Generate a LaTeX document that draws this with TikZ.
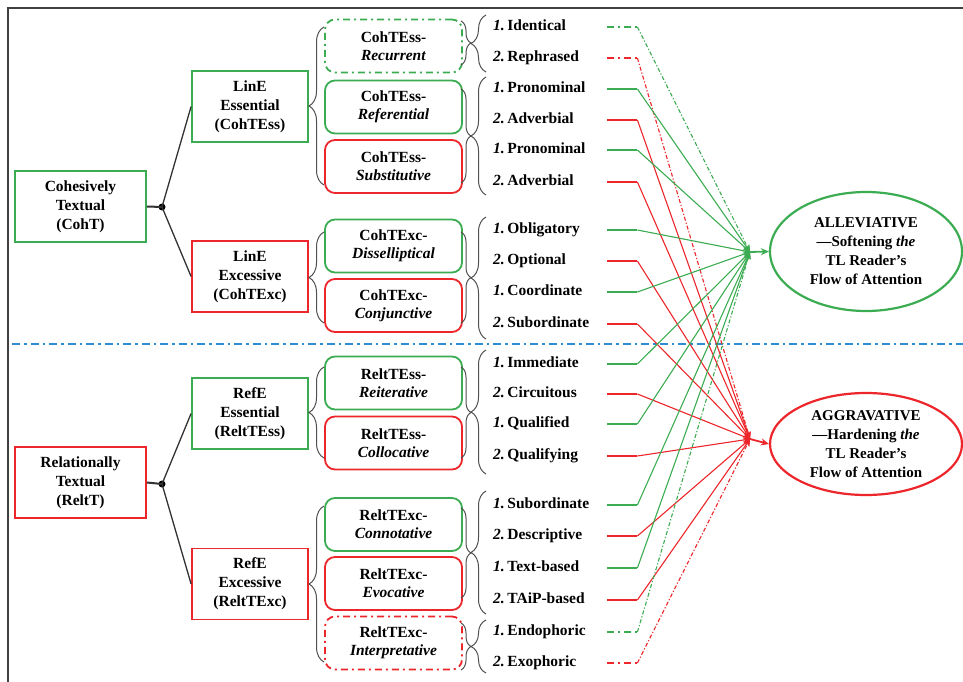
\documentclass[tikz,border=0pt]{standalone}
\usepackage{fontspec}
\setmainfont{Liberation Serif}
\usetikzlibrary{shapes.geometric,decorations.pathreplacing,arrows.meta}
\definecolor{gr}{RGB}{60,172,82}
\definecolor{rd}{RGB}{236,38,42}
\definecolor{bl}{RGB}{45,140,210}
\definecolor{brgray}{RGB}{80,80,80}
\definecolor{jl}{RGB}{50,50,50}
\begin{document}
\begin{tikzpicture}[x=1pt,y=-1pt,
  every node/.style={font=\fontsize{15.5}{19}\selectfont\bfseries},
  sqbox/.style={draw, line width=1.8pt, minimum height=71pt, align=center, inner sep=1pt},
  rbox/.style={draw, line width=1.8pt, rounded corners=10pt, minimum width=137pt, minimum height=53pt, align=center, inner sep=1pt, font=\fontsize{15.5}{18}\selectfont\bfseries},
  ddash/.style={dash pattern=on 7pt off 4pt on 2pt off 4pt},
  ddashh/.style={dash pattern=on 7pt off 4pt on 2pt off 4pt},
  ddashd/.style={dash pattern=on 4pt off 2pt on 1.2pt off 2pt},
  solidh/.style={solid},
  solidd/.style={solid},
  lbr/.style={decorate, decoration={brace, amplitude=15pt}, draw=brgray, line width=1pt},
  rbr/.style={decorate, decoration={brace, amplitude=10pt}, draw=brgray, line width=1pt},
  item/.style={anchor=west, inner sep=0pt, text width=114pt, align=left, text height=11pt, text depth=3.5pt},
  ell/.style={draw, ellipse, line width=2.2pt, minimum width=192pt, inner sep=0pt, align=center, font=\fontsize{15}{19}\selectfont\bfseries},
  jdot/.style={circle, fill=black, inner sep=0pt, minimum size=7pt}
]
\useasboundingbox (0,0) rectangle (963,682);
% frame
\draw[line width=1.2pt, black!75] (8,682) -- (8,8) -- (963,8);
% separator
\draw[bl, line width=2.2pt, dash pattern=on 8pt off 4pt on 2.5pt off 4pt] (12,344) -- (963,344);

% square boxes
\node[sqbox, draw=gr, minimum width=131pt] (coht) at (80.5,206.5) {Cohesively\\Textual\\(CohT)};
\node[sqbox, draw=gr, minimum width=116pt] (lee) at (250,106.5) {LinE\\Essential\\(CohTEss)};
\node[sqbox, draw=rd, minimum width=116pt] (lex) at (250,276.5) {LinE\\Excessive\\(CohTExc)};
\node[sqbox, draw=rd, minimum width=131pt] (relt) at (80.5,482.5) {Relationally\\Textual\\(ReltT)};
\node[sqbox, draw=gr, minimum width=116pt] (ree) at (250,413.5) {RefE\\Essential\\(ReltTEss)};
\node[sqbox, draw=rd, minimum width=116pt] (rex) at (250,584) {RefE\\Excessive\\(ReltTExc)};

% junctions
\node[jdot] (j1) at (162,207) {};
\node[jdot] (j2) at (162,484) {};
\draw[jl, line width=2pt] (coht.east) -- (j1.center);
\draw[jl, line width=1.3pt] (j1.center) -- (lee.west);
\draw[jl, line width=1.3pt] (j1.center) -- (lex.west);
\draw[jl, line width=2pt] (relt.east) -- (j2.center);
\draw[jl, line width=1.3pt] (j2.center) -- (ree.west);
\draw[jl, line width=1.3pt] (j2.center) -- (rex.west);

% rounded boxes
\node[rbox, draw=gr, ddash] (rec) at (393.5,46) {CohTEss-\\\textit{Recurrent}};
\node[rbox, draw=gr] (ref) at (393.5,107) {CohTEss-\\\textit{Referential}};
\node[rbox, draw=rd] (sub) at (393.5,166.5) {CohTEss-\\\textit{Substitutive}};
\node[rbox, draw=gr] (dis) at (393.5,246) {CohTExc-\\\textit{Disselliptical}};
\node[rbox, draw=rd] (con) at (393.5,305.5) {CohTExc-\\\textit{Conjunctive}};
\node[rbox, draw=gr] (rei) at (393.5,383) {ReltTEss-\\\textit{Reiterative}};
\node[rbox, draw=rd] (col) at (393.5,443) {ReltTEss-\\\textit{Collocative}};
\node[rbox, draw=gr] (cnt) at (393.5,524.5) {ReltTExc-\\\textit{Connotative}};
\node[rbox, draw=rd] (evo) at (393.5,583.5) {ReltTExc-\\\textit{Evocative}};
\node[rbox, draw=rd, ddash] (int) at (393.5,643) {ReltTExc-\\\textit{Interpretative}};

% braces before rounded boxes
\draw[lbr] (324,185) -- (324,27);
\draw[lbr] (324,323) -- (324,232);
\draw[lbr] (324,458) -- (324,367);
\draw[lbr] (324,662) -- (324,506);
% braces after rounded boxes
\draw[rbr] (461,21) -- (461,65);
\draw[rbr] (461,89) -- (461,183);
\draw[rbr] (461,232) -- (461,323);
\draw[rbr] (461,367) -- (461,458);
\draw[rbr] (461,508) -- (461,598);
\draw[rbr] (461,623) -- (461,670);
% braces before items
\draw[lbr] (486,72) -- (486,15);
\draw[lbr] (486,195) -- (486,77);
\draw[lbr] (486,339) -- (486,217);
\draw[lbr] (486,474) -- (486,350);
\draw[lbr] (486,614) -- (486,491);
\draw[lbr] (486,673) -- (486,620);

% ellipses
\node[ell, draw=gr, minimum height=119pt] (allev) at (866,251.5) {ALLEVIATIVE\\—Softening \textit{the}\\TL Reader's\\Flow of Attention};
\node[ell, draw=rd, minimum height=102pt] (aggr) at (866,444) {AGGRAVATIVE\\—Hardening \textit{the}\\TL Reader's\\Flow of Attention};
\coordinate (cA) at (750,252);
\coordinate (cG) at (750,439);
\draw[gr, line width=1.8pt, -{Stealth[length=8pt,width=7pt]}] (cA) -- (allev.west);
\draw[rd, line width=1.8pt, -{Stealth[length=8pt,width=7pt]}] (cG) -- (aggr.west);

% items and connectors
\foreach \nn/\y/\nm/\tx/\col/\tg/\st in {
 i1/27/1/Identical/gr/cA/ddash,
 i2/58/2/Rephrased/rd/cG/ddash,
 i3/89/1/Pronominal/gr/cA/solid,
 i4/120/2/Adverbial/rd/cG/solid,
 i5/150/1/Pronominal/gr/cA/solid,
 i6/182/2/Adverbial/rd/cG/solid,
 i7/230/1/Obligatory/gr/cA/solid,
 i8/261/2/Optional/rd/cG/solid,
 i9/292/1/Coordinate/gr/cA/solid,
 i10/324/2/Subordinate/rd/cG/solid,
 i11/364/1/Immediate/gr/cA/solid,
 i12/394/2/Circuitous/rd/cG/solid,
 i13/424/1/Qualified/gr/cA/solid,
 i14/456/2/Qualifying/rd/cG/solid,
 i15/505/1/Subordinate/gr/cA/solid,
 i16/536/2/Descriptive/rd/cG/solid,
 i17/568/1/Text-based/gr/cA/solid,
 i18/600/2/TAiP-based/rd/cG/solid,
 i19/632/1/Endophoric/gr/cA/ddash,
 i20/663/2/Exophoric/rd/cG/ddash}
{
 \node[item] (\nn) at (493,\y) {\textit{\nm.}\,\tx};
 \draw[\col, line width=2pt, \st h] (\nn.east) -- ++(30,0) coordinate (\nn b);
 \draw[\col, line width=1.1pt, \st d, -{Stealth[length=7pt,width=6pt]}] (\nn b) -- (\tg);
}
\end{tikzpicture}
\end{document}
